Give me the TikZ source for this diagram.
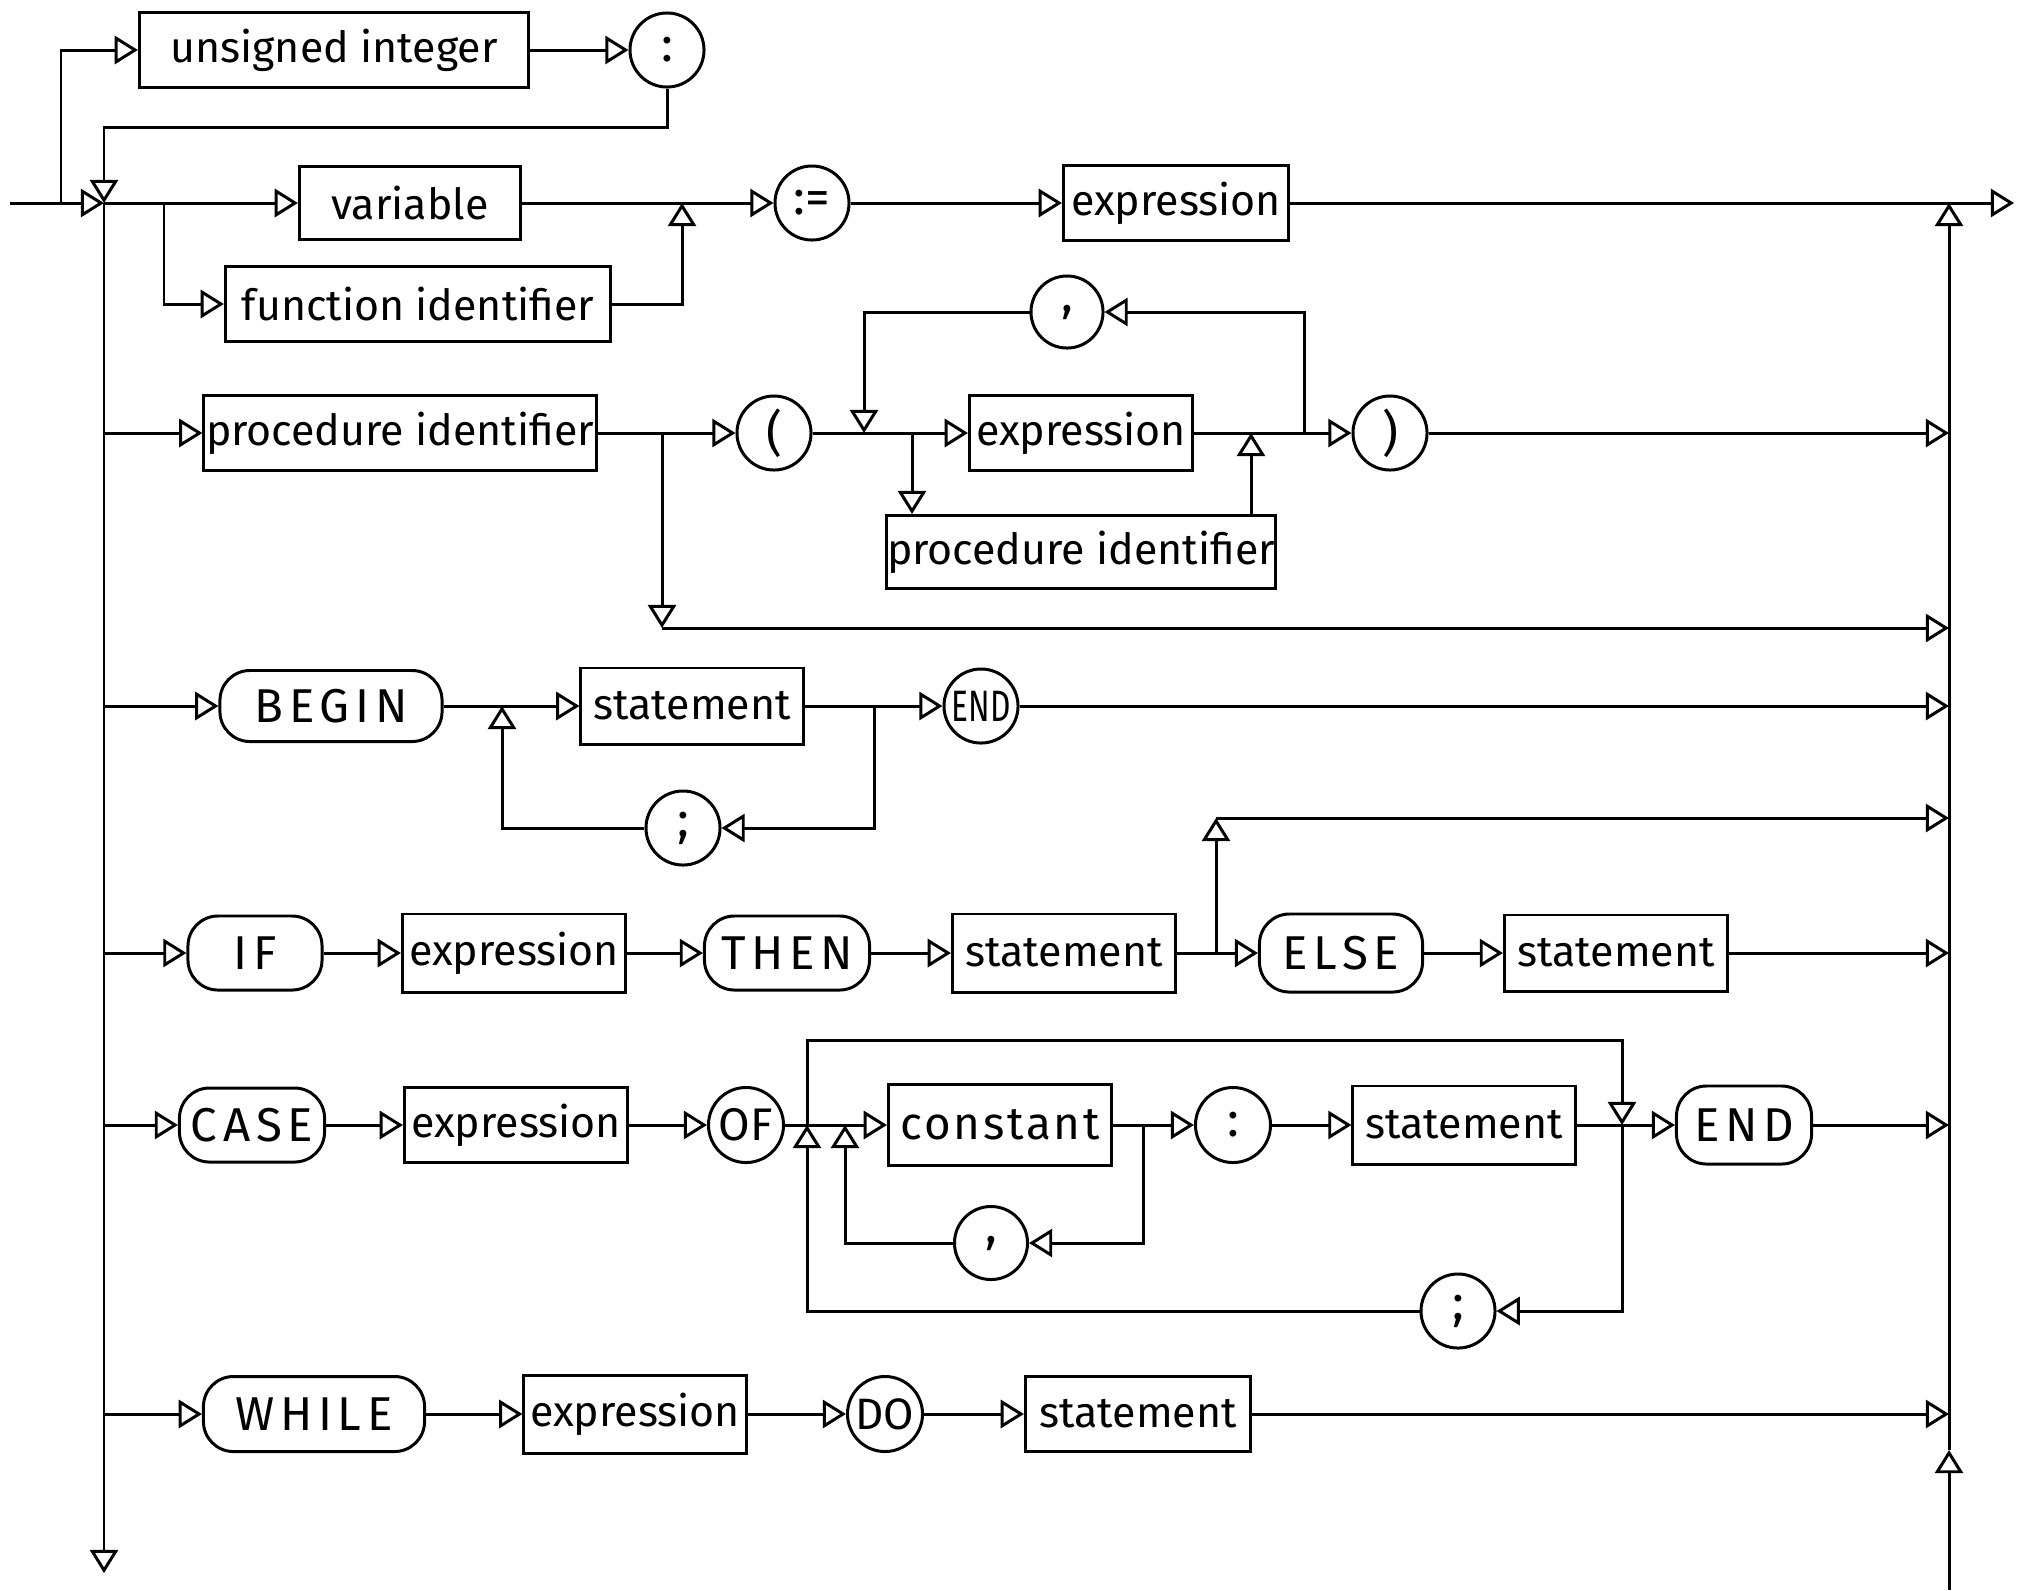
\documentclass[tikz,border=0pt]{standalone}
\usepackage{fontspec}
\usepackage{graphicx}
\setmainfont{Fira Sans}
\usetikzlibrary{arrows.meta}
\begin{document}
\begin{tikzpicture}[x=0.01cm,y=-0.01cm,line width=0.85pt,
  lbl/.style={font=\fontsize{12.2}{14}\selectfont},
  kw/.style={font=\fontsize{13.5}{15}\selectfont\addfontfeature{LetterSpace=12}},
  box/.style={draw,rectangle,inner sep=0pt,minimum width=#1,minimum height=0.75cm,lbl},
  term/.style={draw,rectangle,rounded corners=0.3cm,inner sep=0pt,minimum width=#1,minimum height=0.74cm,kw},
  tok/.style={draw,circle,inner sep=0pt,minimum size=0.74cm,font=\fontsize{14}{15}\selectfont},
  arr/.style={-{Triangle[open,length=6.6pt,width=8pt]}}]
\fill[white] (0,0) rectangle (2028,1590);
\useasboundingbox (0,0) rectangle (2028,1590);

% ---------- syntax elements ----------
% label prefix
\node[box=3.89cm] (ui) at (334,50) {unsigned integer};
\node[tok] (c0) at (667,50) {:};
% assignment
\node[box=2.21cm,minimum height=0.73cm] (var) at (410,203) {variable};
\node[box=3.85cm] (fid) at (418,304) {function identifier};
\node[tok] (asg) at (812,203) {:=};
\node[box=2.25cm] (ex1) at (1176,203) {expression};
% procedure call
\node[box=3.92cm,minimum height=0.74cm] (pid) at (400,433) {procedure identifier};
\node[tok] (lp) at (774,433) {(};
\node[box=2.23cm,minimum height=0.74cm] (ex2) at (1081,433) {expression};
\node[box=3.88cm,minimum height=0.73cm] (pid2) at (1081,552) {procedure identifier};
\node[tok,minimum size=0.72cm] (cm1) at (1067,312) {,};
\node[tok] (rp) at (1390,433) {)};
% compound statement
\node[term=2.22cm,minimum height=0.71cm] (beg) at (331,706) {BEGIN};
\node[box=2.22cm,minimum height=0.76cm] (st1) at (692,706) {statement};
\node[tok,font=\fontsize{12.5}{14}\selectfont] (en1) at (981,706) {\scalebox{0.72}[1]{END}};
\node[tok] (sc1) at (683,828) {;};
% if statement
\node[term=1.34cm] (if) at (255,953) {IF};
\node[box=2.23cm,minimum height=0.78cm] (ex3) at (514,953) {expression};
\node[term=1.65cm] (th) at (787,953) {THEN};
\node[box=2.23cm,minimum height=0.78cm] (st2) at (1064,953) {statement};
\node[term=1.63cm,minimum height=0.78cm] (el) at (1341,953) {ELSE};
\node[box=2.23cm,minimum height=0.76cm] (st3) at (1616,953) {statement};
% case statement
\node[term=1.45cm] (cs) at (252,1125) {CASE};
\node[box=2.23cm] (ex4) at (516,1125) {expression};
\node[tok,minimum size=0.75cm,font=\fontsize{13}{15}\selectfont] (of) at (746,1125) {OF};
\node[box=2.23cm,minimum height=0.81cm,font=\fontsize{13}{15}\selectfont\addfontfeature{LetterSpace=6}] (con) at (1000,1125) {constant};
\node[tok,minimum size=0.75cm] (cl2) at (1233,1125) {:};
\node[box=2.22cm,minimum height=0.78cm] (st4) at (1464,1125) {statement};
\node[term=1.35cm,minimum height=0.78cm] (en2) at (1744,1125) {END};
\node[tok,minimum size=0.73cm] (cm2) at (991,1243) {,};
\node[tok] (sc2) at (1458,1311) {;};
% while statement
\node[term=2.21cm,minimum height=0.75cm] (wh) at (314,1414) {WHILE};
\node[box=2.22cm,minimum height=0.78cm] (ex5) at (635,1414) {expression};
\node[tok,minimum size=0.75cm,font=\fontsize{12.5}{14}\selectfont] (do) at (885,1414) {DO};
\node[box=2.25cm] (st5) at (1138,1414) {statement};

% ---------- junction points ----------
\coordinate (in) at (10,203);
\coordinate (b0) at (61,203);
\coordinate (J) at (104,203);
\coordinate (t0) at (104,127);
\coordinate (outL) at (104,1573);
\coordinate (out) at (2014,203);
\coordinate (R0) at (1949,1590);
\coordinate (R1) at (1949,1450);
\coordinate (Rtop) at (1949,203);
\coordinate (f1) at (164,203);
\coordinate (m1) at (682,203);
\coordinate (L2) at (104,433);
\coordinate (s2) at (662,433);
\coordinate (s2b) at (662,628);
\coordinate (R2b) at (1949,628);
\coordinate (k2) at (864,433);
\coordinate (d2) at (912,433);
\coordinate (u2) at (1251,433);
\coordinate (j2) at (1304,433);
\coordinate (R2) at (1949,433);
\coordinate (L3) at (104,706);
\coordinate (k3) at (502,706);
\coordinate (j3) at (874,706);
\coordinate (R3) at (1949,706);
\coordinate (L4) at (104,953);
\coordinate (e4) at (1216,953);
\coordinate (e4t) at (1216,818);
\coordinate (R4t) at (1949,818);
\coordinate (R4) at (1949,953);
\coordinate (L5) at (104,1125);
\coordinate (k5) at (807,1125);
\coordinate (k5b) at (845,1125);
\coordinate (j5) at (1143,1125);
\coordinate (j5b) at (1622,1125);
\coordinate (top5) at (1622,1040);
\coordinate (R5) at (1949,1125);
\coordinate (L6) at (104,1414);
\coordinate (R6) at (1949,1414);

% ---------- connectors ----------
% entry, label prefix and the two rails
\draw[arr] (in) -- (J);
\draw[arr] (b0) |- (ui);
\draw[arr] (ui) -- (c0);
\draw[arr] (c0.south) |- (t0) -- (J);
\draw[arr] (J) -- (outL);
\draw[arr] (R0) -- (R1);
\draw[arr] (R1) -- (Rtop);
% assignment
\draw[arr] (J) -- (var);
\draw[arr] (f1) |- (fid);
\draw[arr] (fid) -| (m1);
\draw[arr] (var) -- (asg);
\draw[arr] (asg) -- (ex1);
\draw[arr] (ex1) -- (out);
% procedure call
\draw[arr] (L2) -- (pid);
\draw[arr] (pid) -- (lp);
\draw[arr] (s2) -- (s2b);
\draw[arr] (s2b) -- (R2b);
\draw[arr] (lp) -- (ex2);
\draw[arr] (d2) -- (pid2.north -| d2);
\draw[arr] (pid2.north -| u2) -- (u2);
\draw[arr] (ex2) -- (rp);
\draw[arr] (j2) |- (cm1);
\draw[arr] (cm1) -| (k2);
\draw[arr] (rp) -- (R2);
% compound statement
\draw[arr] (L3) -- (beg);
\draw[arr] (beg) -- (st1);
\draw[arr] (st1) -- (en1);
\draw[arr] (j3) |- (sc1);
\draw[arr] (sc1) -| (k3);
\draw[arr] (en1) -- (R3);
% if statement
\draw[arr] (L4) -- (if);
\draw[arr] (if) -- (ex3);
\draw[arr] (ex3) -- (th);
\draw[arr] (th) -- (st2);
\draw[arr] (st2) -- (el);
\draw[arr] (el) -- (st3);
\draw[arr] (st3) -- (R4);
\draw[arr] (e4) -- (e4t);
\draw[arr] (e4t) -- (R4t);
% case statement
\draw[arr] (L5) -- (cs);
\draw[arr] (cs) -- (ex4);
\draw[arr] (ex4) -- (of);
\draw[arr] (of) -- (con);
\draw[arr] (con) -- (cl2);
\draw[arr] (cl2) -- (st4);
\draw[arr] (st4) -- (en2);
\draw[arr] (en2) -- (R5);
\draw[arr] (j5) |- (cm2);
\draw[arr] (cm2) -| (k5b);
\draw[arr] (j5b) |- (sc2);
\draw[arr] (sc2) -| (k5);
\draw[arr] (k5) |- (top5) -- (j5b);
% while statement
\draw[arr] (L6) -- (wh);
\draw[arr] (wh) -- (ex5);
\draw[arr] (ex5) -- (do);
\draw[arr] (do) -- (st5);
\draw[arr] (st5) -- (R6);
\end{tikzpicture}
\end{document}
